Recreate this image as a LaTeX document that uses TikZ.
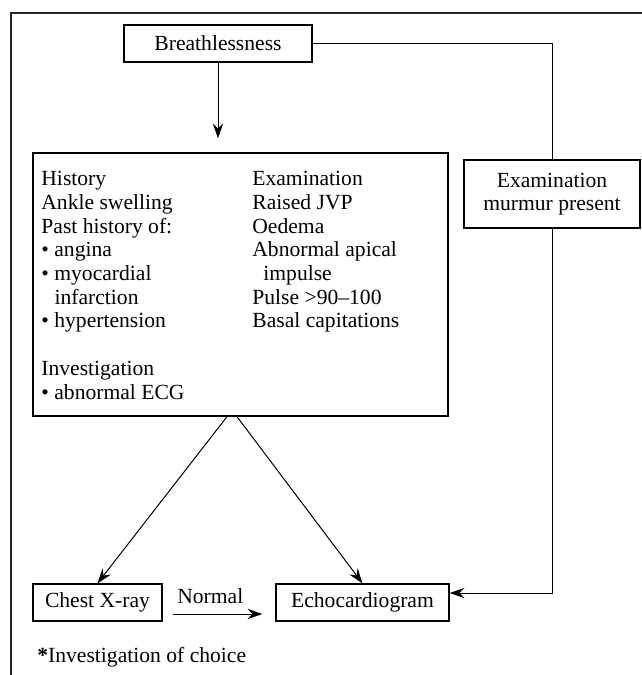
\documentclass[tikz,border=0pt]{standalone}
\usepackage{fontspec}
\setmainfont{Liberation Serif}
\usetikzlibrary{arrows.meta}

\tikzset{
	box/.style={draw, line width=0.65pt, inner sep=0pt, align=center,
		font=\fontsize{10.8}{11.8}\selectfont},
	txt/.style={inner sep=0pt, align=left, anchor=north west,
		font=\fontsize{10.8}{11.85}\selectfont},
	arr/.style={-{Stealth[length=7.5pt,width=5.2pt,inset=2.6pt]}, line width=0.5pt},
	link/.style={line width=0.5pt},
	frame/.style={line width=1.25pt, draw=black!85}
}
\newcommand{\bul}{\textbullet\ }
\newcommand{\bulgap}{\hspace*{6.6pt}}

\begin{document}
\begin{tikzpicture}[x=0.5pt,y=-0.5pt]
		\useasboundingbox (0,0) rectangle (642,675);
		\draw[frame] (11,675)--(11,13)--(642,13);

		\node[box, minimum width=94pt, minimum height=18.5pt] (breath) at (218,43.5) {Breathlessness};
		\node[box, minimum width=207.5pt, minimum height=131.5pt] (signs) at (240.5,284.5) {};
		\node[box, minimum width=88pt, minimum height=34pt] (murmur) at (552,194) {Examination\\murmur present};
		\node[box, minimum width=64.5pt, minimum height=18.5pt] (cxr) at (97.5,602.5) {Chest X-ray};
		\node[box, minimum width=86.5pt, minimum height=18.5pt] (echo) at (362.5,602.5) {Echocardiogram};

		\node[txt] (histtxt) at (41,171) {History\\Ankle swelling\\Past history of:\\
			\bul angina\\\bul myocardial\\\bulgap infarction\\\bul hypertension\\[11.85pt]
			Investigation\\\bul abnormal ECG};
		\node[txt] (examtxt) at (252,171) {Examination\\Raised JVP\\Oedema\\Abnormal apical\\
			\hspace*{5.5pt}impulse\\Pulse >90--100\\Basal capitations};
		\node[txt, anchor=west] (foot) at (37,657) {\textbf{*}Investigation of choice};

		\draw[arr] (breath.south)--(breath.south |- signs.north) [shorten >=7pt];
		\draw[link] (breath.east) -| (murmur.north);
		\draw[arr] (murmur.south) |- ([yshift=4.75pt]echo.east);
		\draw[arr] ([xshift=-6.75pt]signs.south)--(cxr.north);
		\draw[arr] ([xshift=-1.75pt]signs.south)--(echo.north);
		\draw[arr] ([shift={(5pt,-5.75pt)}]cxr.east)--([shift={(-6.5pt,-5.75pt)}]echo.west)
			node[pos=0.42, above=1.5pt, font=\fontsize{10.8}{11.8}\selectfont] (normal) {Normal};
	\end{tikzpicture}
\end{document}
